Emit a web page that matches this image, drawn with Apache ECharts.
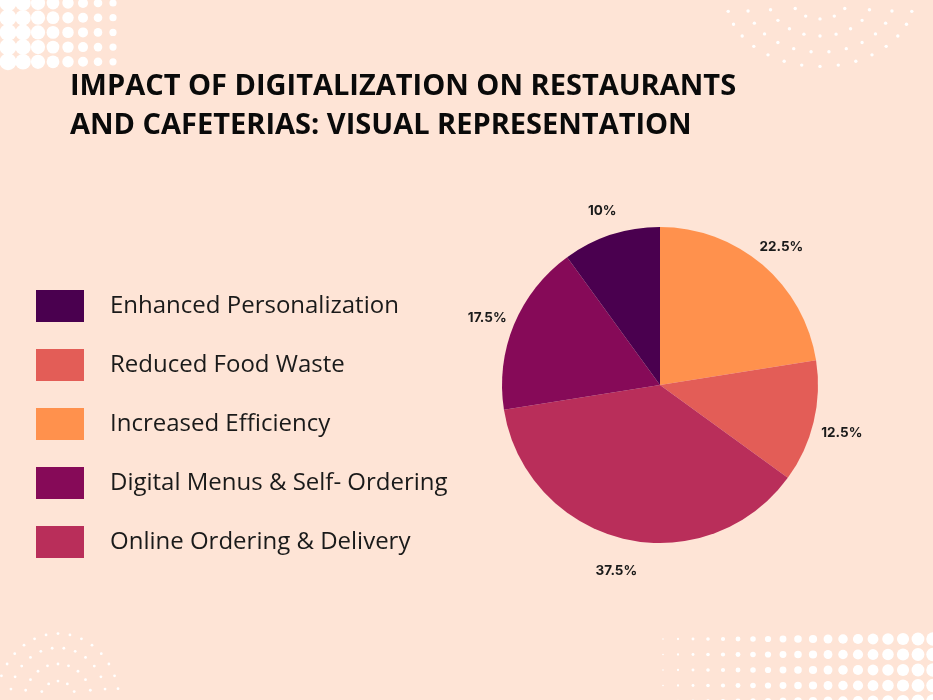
<!DOCTYPE html>
<html>
<head>
<meta charset="utf-8">
<script src="https://cdn.jsdelivr.net/npm/echarts@6/dist/echarts.min.js"></script>
<style>
html,body{margin:0;padding:0;background:#FEE4D6;}
#chart{width:933px;height:700px;}
</style>
</head>
<body>
<div id="chart"></div>
<script>
// Data (pie order, clockwise from 12 o'clock)
const categories = ["Increased Efficiency", "Reduced Food Waste", "Online Ordering & Delivery", "Digital Menus & Self- Ordering", "Enhanced Personalization"];
const values = [22.5, 12.5, 37.5, 17.5, 10];
const colors = ["#FF914D", "#E35D57", "#B92E5A", "#860A58", "#4A004F"];
// Legend order as shown
const legendOrder = ["Enhanced Personalization", "Reduced Food Waste", "Increased Efficiency", "Digital Menus & Self- Ordering", "Online Ordering & Delivery"];
const titleLines = ["IMPACT OF DIGITALIZATION ON RESTAURANTS", "AND CAFETERIAS: VISUAL REPRESENTATION"];

const chart = echarts.init(document.getElementById('chart'), null, {renderer: 'canvas'});

// decorative dots
const deco = [];
// top-left grid
for (let c = 0; c < 8; c++) {
  for (let r = 0; r < 5; r++) {
    const rad = Math.max(3.5, 8.5 - c * 0.7);
    deco.push({type: 'circle', silent: true, shape: {cx: 8 + c * 15, cy: 3 + r * 14.7, r: rad}, style: {fill: '#ffffff'}});
  }
}
// bottom-right grid
for (let c = 0; c < 19; c++) {
  for (let r = 0; r < 5; r++) {
    const rad = 0.8 + c * 0.33;
    deco.push({type: 'circle', silent: true, shape: {cx: 663 + c * 15, cy: 639 + r * 15.5, r: rad}, style: {fill: '#ffffff'}});
  }
}
// top-right arcs
[[22, 6], [40, 10], [57, 13], [72, 16]].forEach(function (ring) {
  const R = ring[0], n = ring[1];
  for (let i = 0; i <= n; i++) {
    const a = Math.PI * i / n;
    deco.push({type: 'circle', silent: true, shape: {cx: 820 + R * 1.3 * Math.cos(a), cy: -2 + R * Math.sin(a) * 0.95, r: 1.7}, style: {fill: '#ffffff'}});
  }
});
// bottom-left arcs
[[22, 6], [40, 10], [57, 13], [72, 16]].forEach(function (ring) {
  const R = ring[0], n = ring[1];
  for (let i = 0; i <= n; i++) {
    const a = Math.PI * i / n;
    deco.push({type: 'circle', silent: true, shape: {cx: 58 + R * 0.85 * Math.cos(a), cy: 702 - R * Math.sin(a) * 0.95, r: 1.4}, style: {fill: '#ffffff'}});
  }
});

deco.push({
  type: 'text', left: 70, top: 67, silent: true,
  style: {
    text: titleLines.join('\n'),
    font: 'bold 29px "Open Sans", sans-serif',
    fill: '#0a0a0a',
    lineHeight: 39
  }
});

const pieData = categories.map(function (c, i) {
  return {name: c, value: values[i], itemStyle: {color: colors[i]}};
});
const labelData = categories.map(function (c, i) {
  return {name: c, value: values[i], itemStyle: {color: 'rgba(0,0,0,0)'}};
});

chart.setOption({
  backgroundColor: '#FEE4D6',
  animation: false,
  graphic: deco,
  legend: {
    orient: 'vertical',
    left: 36, top: 290,
    padding: 0,
    data: legendOrder,
    icon: 'rect',
    itemWidth: 48, itemHeight: 32, itemGap: 27,
    selectedMode: false,
    textStyle: {
      fontFamily: '"Open Sans", sans-serif',
      fontSize: 24,
      lineHeight: 32,
      color: '#1a1a1a',
      padding: [0, 0, 0, 21]
    }
  },
  series: [
    {
      type: 'pie',
      center: [660, 385],
      radius: [0, 158],
      startAngle: 90,
      clockwise: true,
      silent: true,
      label: {show: false},
      labelLine: {show: false},
      emphasis: {disabled: true},
      data: pieData
    },
    {
      type: 'pie',
      center: [660, 385],
      radius: [172, 196],
      startAngle: 90,
      clockwise: true,
      silent: true,
      label: {
        show: true,
        position: 'inside',
        offset: [0, 4],
        formatter: function (p) { return p.value + '%'; },
        fontFamily: 'Inter, sans-serif',
        fontWeight: 'bold',
        fontSize: 13.5,
        color: '#1a1a1a'
      },
      labelLine: {show: false},
      emphasis: {disabled: true},
      data: labelData
    }
  ]
});
</script>
</body>
</html>
